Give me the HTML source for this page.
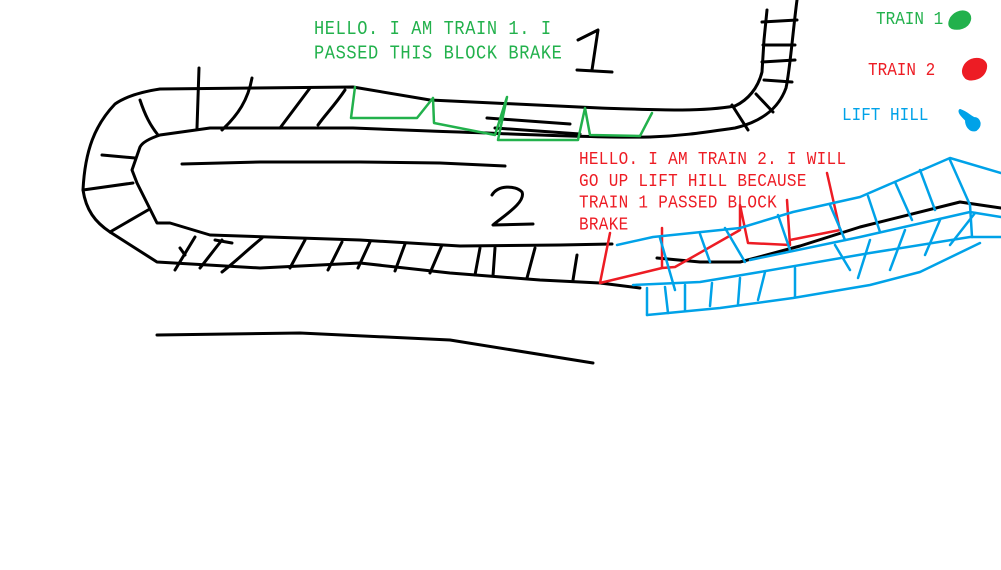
<!DOCTYPE html>
<html><head><meta charset="utf-8"><style>
html,body{margin:0;padding:0;background:#fff;width:1001px;height:570px;overflow:hidden}
svg{position:absolute;left:0;top:0}
.t{position:absolute;font-family:"Liberation Mono",monospace;font-size:16px;line-height:21px;white-space:pre;transform:scaleY(1.15);transform-origin:0 0}
</style></head><body>
<svg width="1001" height="570" viewBox="0 0 1001 570" fill="none" stroke-linecap="round" stroke-linejoin="round">
<g stroke="#000" stroke-width="3">
<path d="M735,106 C700,112 660,110 600,108 L430,100 L353,87 L160,89 C140,92 125,97 115,104 C95,125 85,150 83,190 C86,210 95,222 110,232 L157,262 L260,268 L360,263 L450,273 L540,280 L600,283 L640,288"/>
<path d="M650,137 C600,138 520,134 430,131 L353,128 L210,128 L160,135 C148,139 142,143 140,147 L132,170 L137,183 L157,223 L170,223 L210,235 L360,240 L460,246 L560,245 L612,244"/>
<path d="M797,0 C793,30 790,70 786,88 C778,110 760,122 735,128 C700,133 680,136 650,137"/>
<path d="M767,10 L764,40 L762,72 C758,88 748,100 735,106"/>
<path d="M182,164 L260,162 L360,162 L440,163 L505,166"/>
<path d="M157,335 L300,333 L450,340 L593,363"/>
<path d="M487,118 L570,124"/><path d="M495,128 L580,134"/>
<path d="M199,68 L197,128"/><path d="M252,78 C248,100 238,115 222,130"/><path d="M310,88 L280,128"/><path d="M345,90 C335,105 325,115 318,125"/>
<path d="M140,100 C145,115 150,125 158,135"/><path d="M102,155 L135,158"/><path d="M83,190 L133,183"/><path d="M110,232 L148,210"/>
<path d="M763,45 L795,45"/><path d="M762,62 L795,60"/><path d="M764,80 L792,82"/><path d="M762,22 L797,20"/>
<path d="M732,105 L748,130"/><path d="M756,94 L773,112"/>
<path d="M195,237 L175,270"/><path d="M180,248 L185,255"/><path d="M222,240 C210,255 205,262 200,268"/><path d="M215,240 L232,243"/>
<path d="M262,238 C245,252 235,262 222,272"/><path d="M305,240 L290,268"/><path d="M342,242 L328,270"/>
<path d="M370,242 L358,268"/><path d="M405,244 L395,271"/><path d="M442,245 L430,273"/><path d="M480,248 L475,275"/>
<path d="M495,248 L493,276"/><path d="M535,248 L527,278"/><path d="M577,255 L573,280"/>
<path d="M657,258 L700,262 L740,262 L800,246 L860,227 L960,202 L1001,208"/>
</g>
<g stroke="#22b14c" stroke-width="2.5">
<path d="M355,87 L351,118 L417,118 L433,98 L434,123 L495,135 L507,97 L498,140 L578,140 L585,108 L590,135 L640,136 L652,113"/>
</g>
<g stroke="#ed1c24" stroke-width="2.5">
<path d="M610,233 L600,283 L662,268 L662,228 M662,268 L675,267 L740,230 L740,205 L748,243 L790,245 L787,200 M790,240 L840,230 L827,173"/>
</g>
<g stroke="#00a2e8" stroke-width="2.5">
<path d="M617,245 L653,237 L740,228 L793,212 L860,197 L950,158 L1001,173"/>
<path d="M750,260 L860,237 L970,212 L1001,217"/>
<path d="M633,285 L700,282 L760,272 L870,253 L970,237 L1001,237"/>
<path d="M647,315 L720,308 L793,298 L870,285 L920,272 L980,243"/>
<path d="M647,288 L647,315"/><path d="M665,287 L668,313"/><path d="M685,285 L685,310"/><path d="M712,283 L710,306"/><path d="M740,278 L738,304"/><path d="M765,272 L758,300"/><path d="M795,268 L795,297"/>
<path d="M660,238 L675,290"/><path d="M700,234 L710,262"/><path d="M725,228 L745,262"/><path d="M778,215 L790,250"/><path d="M830,205 L845,240"/><path d="M868,196 L880,232"/><path d="M895,182 L912,220"/><path d="M920,170 L935,210"/><path d="M950,160 L970,205"/><path d="M970,205 L972,237"/>
<path d="M835,245 L850,270"/><path d="M870,240 L858,278"/><path d="M905,230 L890,270"/><path d="M940,220 L925,255"/><path d="M975,213 L950,245"/>
</g>
<g stroke="#000" stroke-width="3">
<path d="M578,40 L598,30 L592,70 M577,70 L612,72"/>
<path d="M492,195 C498,185 515,185 522,192 C526,202 505,215 493,225 L533,224"/>
</g>
<path d="M951,18 C958,8 972,10 970,20 C968,28 958,30 952,28 C948,26 949,22 951,18Z" fill="#22b14c" stroke="#22b14c" stroke-width="2"/>
<path d="M965,65 C972,55 988,58 986,68 C984,78 972,82 966,78 C962,74 962,70 965,65Z" fill="#ed1c24" stroke="#ed1c24" stroke-width="2"/>
<path d="M960,110 C966,112 970,116 974,118 C980,118 982,126 976,130 C970,132 966,126 966,120 C962,116 958,112 960,110Z" fill="#00a2e8" stroke="#00a2e8" stroke-width="2"/>
</svg>
<div class="t" style="left:314px;top:18px;color:#22b14c;font-size:17px;line-height:21px;letter-spacing:0.6px">HELLO. I AM TRAIN 1. I
PASSED THIS BLOCK BRAKE</div>
<div class="t" style="left:579px;top:149px;color:#ed1c24;line-height:19px;letter-spacing:0.3px">HELLO. I AM TRAIN 2. I WILL
GO UP LIFT HILL BECAUSE
TRAIN 1 PASSED BLOCK
BRAKE</div>
<div class="t" style="left:876px;top:8px;color:#22b14c">TRAIN 1</div>
<div class="t" style="left:868px;top:59px;color:#ed1c24">TRAIN 2</div>
<div class="t" style="left:842px;top:104px;color:#00a2e8">LIFT HILL</div>
</body></html>
